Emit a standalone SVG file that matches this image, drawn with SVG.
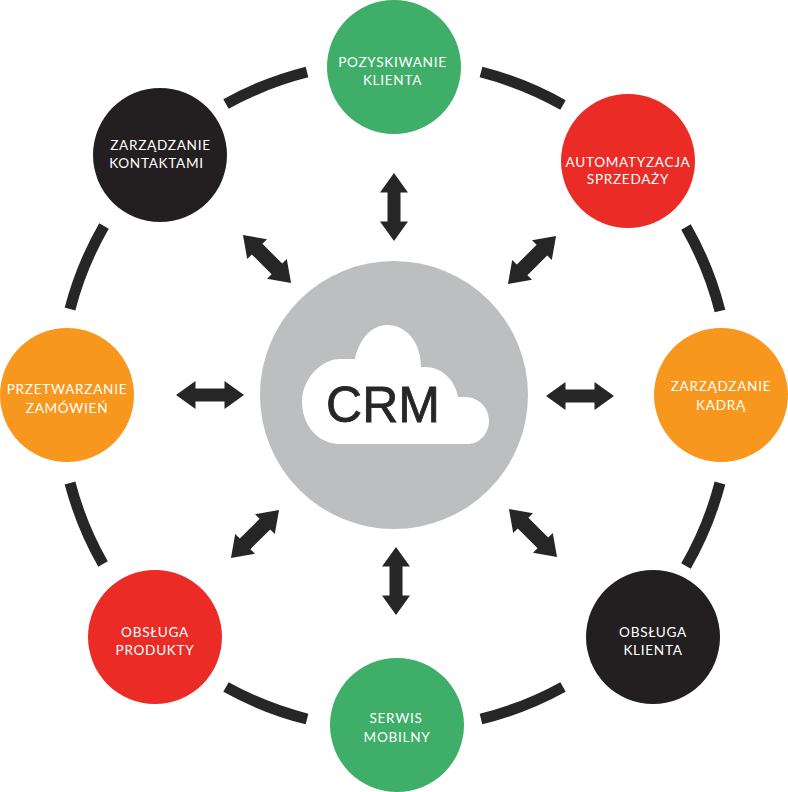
<svg xmlns="http://www.w3.org/2000/svg" width="788" height="792" viewBox="0 0 788 792">
<style>
.ring{fill:none;stroke:#262626;stroke-width:11}
.a{fill:#262626}
.t{font-family:"Lato","Noto Sans",sans-serif;font-size:13.6px;fill:#fff;text-anchor:middle;letter-spacing:.7px}
.g{fill:#3fae68}.r{fill:#ea2b26}.o{fill:#f8971d}.k{fill:#231f20}
</style>
<defs>
<path id="arrow" d="M-34 0L-14.5 -14L-14.5 -6.5L14.5 -6.5L14.5 -14L34 0L14.5 14L14.5 6.5L-14.5 6.5L-14.5 14Z"/>
<path id="arrowd" d="M-34 0L-14 -14L-14 -7.5L14 -7.5L14 -14L34 0L14 14L14 7.5L-14 7.5L-14 14Z"/>
</defs>
<rect width="788" height="792" fill="#fff"/>
<g id="connectors">
<g id="ring">
<path class="ring" d="M226 104A335 335 0 0 1 307 72"/>
<path class="ring" d="M481 72A335 335 0 0 1 563 105"/>
<path class="ring" d="M686 227A335 335 0 0 1 720 311"/>
<path class="ring" d="M720 483A335 335 0 0 1 686 566"/>
<path class="ring" d="M563 687A335 335 0 0 1 481 719"/>
<path class="ring" d="M307 719A335 335 0 0 1 226 687"/>
<path class="ring" d="M103 564A335 335 0 0 1 70 483"/>
<path class="ring" d="M70 309A335 335 0 0 1 104 226"/>
</g>
<g id="arrows" class="a">
<use href="#arrow" transform="translate(394 207) rotate(90)"/>
<use href="#arrowd" transform="translate(532 260) rotate(-45)"/>
<use href="#arrow" transform="translate(580 396)"/>
<use href="#arrowd" transform="translate(533 533) rotate(45)"/>
<use href="#arrow" transform="translate(396 581) rotate(90)"/>
<use href="#arrowd" transform="translate(255 534) rotate(-45)"/>
<use href="#arrow" transform="translate(210 395)"/>
<use href="#arrowd" transform="translate(267 259) rotate(45)"/>
</g>
</g>
<g id="crm">
<circle cx="394" cy="395" r="134" fill="#bcbec0"/>
<path fill="#fff" d="M340 444C317 444 302 424 302 402C302 378 322 359 340 359L355 359C359 339 372 325 387 325C407 325 421 343 421 367L425 367C442 367 455 380 458 397L465 397C479 397 489 408 489 421C489 434 479 444 468 444Z"/>
<text x="383" y="422" font-family="'Liberation Sans',Arial,sans-serif" font-size="50" fill="#262626" stroke="#262626" stroke-width=".8" text-anchor="middle">CRM</text>
</g>
<g id="n1"><circle class="g" cx="394" cy="67" r="67"/><text class="t" x="392.5" y="67">POZYSKIWANIE</text><text class="t" x="392.5" y="85">KLIENTA</text></g>
<g id="n2"><circle class="r" cx="628" cy="161" r="67"/><text class="t" x="628" y="167">AUTOMATYZACJA</text><text class="t" x="628" y="184">SPRZEDAŻY</text></g>
<g id="n3"><circle class="o" cx="721" cy="395" r="67"/><text class="t" x="721" y="391">ZARZĄDZANIE</text><text class="t" x="721" y="410">KADRĄ</text></g>
<g id="n4"><circle class="k" cx="653" cy="637" r="67"/><text class="t" x="653" y="637">OBSŁUGA</text><text class="t" x="653" y="655">KLIENTA</text></g>
<g id="n5"><circle class="g" cx="397" cy="725" r="67"/><text class="t" x="396" y="723">SERWIS</text><text class="t" x="397" y="742">MOBILNY</text></g>
<g id="n6"><circle class="r" cx="155" cy="637" r="67"/><text class="t" x="155" y="637">OBSŁUGA</text><text class="t" x="155" y="655">PRODUKTY</text></g>
<g id="n7"><circle class="o" cx="67" cy="395" r="67"/><text class="t" x="67" y="394">PRZETWARZANIE</text><text class="t" x="67" y="413">ZAMÓWIEŃ</text></g>
<g id="n8"><circle class="k" cx="160" cy="155" r="67"/><text class="t" x="160.5" y="150">ZARZĄDZANIE</text><text class="t" x="156.5" y="168">KONTAKTAMI</text></g>
</svg>
